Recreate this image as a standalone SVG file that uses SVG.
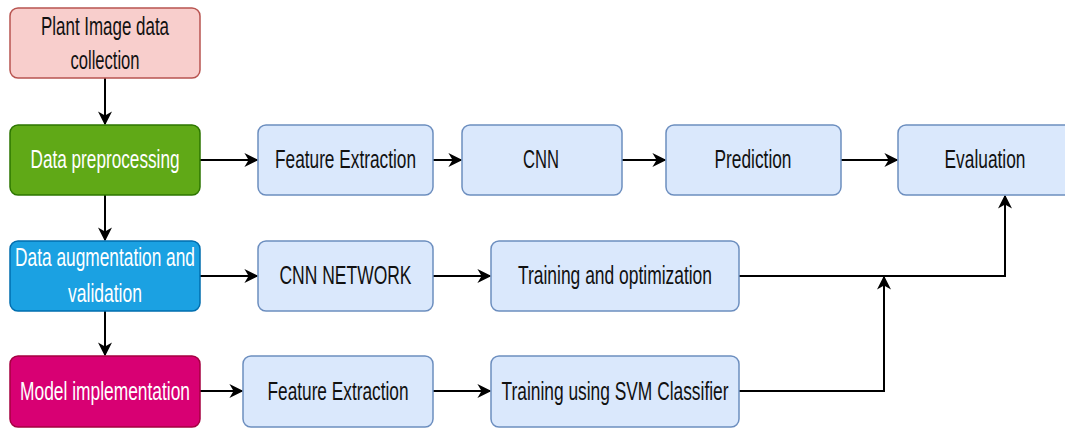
<svg xmlns="http://www.w3.org/2000/svg" width="1065" height="428" viewBox="0 0 1065 428">
  <style>
    .box{stroke-width:1.5}
    .blue{fill:#dae8fc;stroke:#6c8ebf}
    .pink{fill:#f8cecc;stroke:#b85450}
    .green{fill:#60a917;stroke:#2d7600}
    .cyan{fill:#1ba1e2;stroke:#006eaf}
    .mag{fill:#d80073;stroke:#a50040}
    text{font-family:"Liberation Sans",Arial,sans-serif;font-size:25.5px;text-anchor:middle}
    .dark{fill:#111111}
    .light{fill:#ffffff}
    .edge{fill:none;stroke:#000000;stroke-width:2;marker-end:url(#arrow)}
  </style>
  <defs>
    <marker id="arrow" viewBox="0 0 10 10" refX="9" refY="5" markerWidth="7" markerHeight="7" markerUnits="strokeWidth" orient="auto">
      <path d="M0,0 L10,5 L0,10 L3,5 z" fill="#000000"/>
    </marker>
  </defs>
  <rect width="1065" height="428" fill="#ffffff"/>

  <g id="connectors">
    <path class="edge" d="M105,78 L105,124"/>
    <path class="edge" d="M105,195 L105,240"/>
    <path class="edge" d="M105,311 L105,355"/>
    <path class="edge" d="M200,160 L257,160"/>
    <path class="edge" d="M433,160 L461,160"/>
    <path class="edge" d="M622,160 L665,160"/>
    <path class="edge" d="M841,160 L897,160"/>
    <path class="edge" d="M200,276 L257,276"/>
    <path class="edge" d="M433,276 L490,276"/>
    <path class="edge" d="M739,276 L1005,276 L1005,196"/>
    <path class="edge" d="M200,391 L242,391"/>
    <path class="edge" d="M433,391 L490,391"/>
    <path class="edge" d="M739,391 L884,391 L884,277"/>
  </g>

  <g id="n-plant">
    <rect class="box pink" x="10" y="8" width="190" height="70" rx="8"/>
    <text class="dark" x="105" y="35" textLength="128" lengthAdjust="spacingAndGlyphs">Plant Image data</text>
    <text class="dark" x="105" y="69" textLength="69" lengthAdjust="spacingAndGlyphs">collection</text>
  </g>
  <g id="n-preproc">
    <rect class="box green" x="10" y="125" width="190" height="70" rx="8"/>
    <text class="light" x="105" y="168" textLength="149" lengthAdjust="spacingAndGlyphs">Data preprocessing</text>
  </g>
  <g id="n-augment">
    <rect class="box cyan" x="10" y="241" width="190" height="70" rx="8"/>
    <text class="light" x="105" y="266" textLength="180" lengthAdjust="spacingAndGlyphs">Data augmentation and</text>
    <text class="light" x="105" y="302" textLength="74" lengthAdjust="spacingAndGlyphs">validation</text>
  </g>
  <g id="n-model">
    <rect class="box mag" x="10" y="356" width="190" height="71" rx="8"/>
    <text class="light" x="105" y="400" textLength="170" lengthAdjust="spacingAndGlyphs">Model implementation</text>
  </g>

  <g id="n-fe1">
    <rect class="box blue" x="258" y="125" width="175" height="70" rx="8"/>
    <text class="dark" x="345.5" y="168" textLength="141" lengthAdjust="spacingAndGlyphs">Feature Extraction</text>
  </g>
  <g id="n-cnn">
    <rect class="box blue" x="462" y="125" width="160" height="70" rx="8"/>
    <text class="dark" x="541" y="168" textLength="36" lengthAdjust="spacingAndGlyphs">CNN</text>
  </g>
  <g id="n-pred">
    <rect class="box blue" x="666" y="125" width="175" height="70" rx="8"/>
    <text class="dark" x="753" y="168" textLength="77" lengthAdjust="spacingAndGlyphs">Prediction</text>
  </g>
  <g id="n-eval">
    <rect class="box blue" x="898" y="125" width="175" height="70" rx="8"/>
    <text class="dark" x="985" y="168" textLength="81" lengthAdjust="spacingAndGlyphs">Evaluation</text>
  </g>

  <g id="n-cnnnet">
    <rect class="box blue" x="258" y="241" width="175" height="70" rx="8"/>
    <text class="dark" x="345.5" y="284" textLength="132" lengthAdjust="spacingAndGlyphs">CNN NETWORK</text>
  </g>
  <g id="n-trainopt">
    <rect class="box blue" x="491" y="241" width="248" height="70" rx="8"/>
    <text class="dark" x="615" y="284" textLength="194" lengthAdjust="spacingAndGlyphs">Training and optimization</text>
  </g>

  <g id="n-fe2">
    <rect class="box blue" x="243" y="356" width="190" height="71" rx="8"/>
    <text class="dark" x="338" y="400" textLength="141" lengthAdjust="spacingAndGlyphs">Feature Extraction</text>
  </g>
  <g id="n-svm">
    <rect class="box blue" x="491" y="356" width="248" height="71" rx="8"/>
    <text class="dark" x="615" y="400" textLength="227" lengthAdjust="spacingAndGlyphs">Training using SVM Classifier</text>
  </g>
</svg>
